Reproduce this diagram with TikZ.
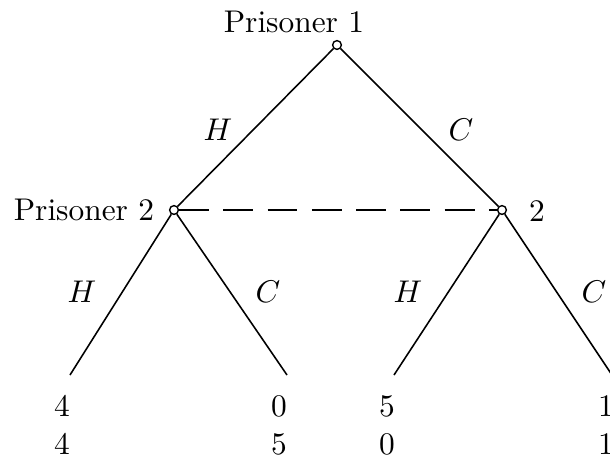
\documentclass[tikz,border=0pt]{standalone}
\begin{document}
\begin{tikzpicture}[x=0.3185pt,y=-0.3185pt,
  dec/.style={circle,draw,inner sep=0pt,minimum size=2.8pt,fill=white,line width=0.45pt},
  edge/.style={line width=0.5pt},
  lbl/.style={inner sep=0pt}]
\useasboundingbox (0,0) rectangle (610,465);
\node[dec] (r) at (337,45) {};
\node[dec] (a) at (174,210) {};
\node[dec] (b) at (502,210) {};
\coordinate (l1) at (70,375);
\coordinate (l2) at (287,375);
\coordinate (l3) at (394,375);
\coordinate (l4) at (612,375);
\draw[edge] (r) -- (a);
\draw[edge] (r) -- (b);
\draw[edge] (a) -- (l1);
\draw[edge] (a) -- (l2);
\draw[edge] (b) -- (l3);
\draw[edge] (b) -- (l4);
\draw[edge,dash pattern=on 9.5pt off 4.6pt] (a) -- (b);
\node[lbl] (t1) at (294,22) {Prisoner 1};
\node[lbl] (t2) at (84,210) {Prisoner 2};
\node[lbl] (t3) at (537,211) {2};
\node[lbl] (e1) at (218,130) {$H$};
\node[lbl] (e2) at (461,130) {$C$};
\node[lbl] (e3) at (82,292) {$H$};
\node[lbl] (e4) at (268,292) {$C$};
\node[lbl] (e5) at (408,292) {$H$};
\node[lbl] (e6) at (594,292) {$C$};
\node[lbl] (p1a) at (62,406) {4};
\node[lbl] (p1b) at (62,444) {4};
\node[lbl] (p2a) at (279,406) {0};
\node[lbl] (p2b) at (279,444) {5};
\node[lbl] (p3a) at (387,406) {5};
\node[lbl] (p3b) at (387,444) {0};
\node[lbl] (p4a) at (606,406) {1};
\node[lbl] (p4b) at (606,444) {1};
\end{tikzpicture}
\end{document}
